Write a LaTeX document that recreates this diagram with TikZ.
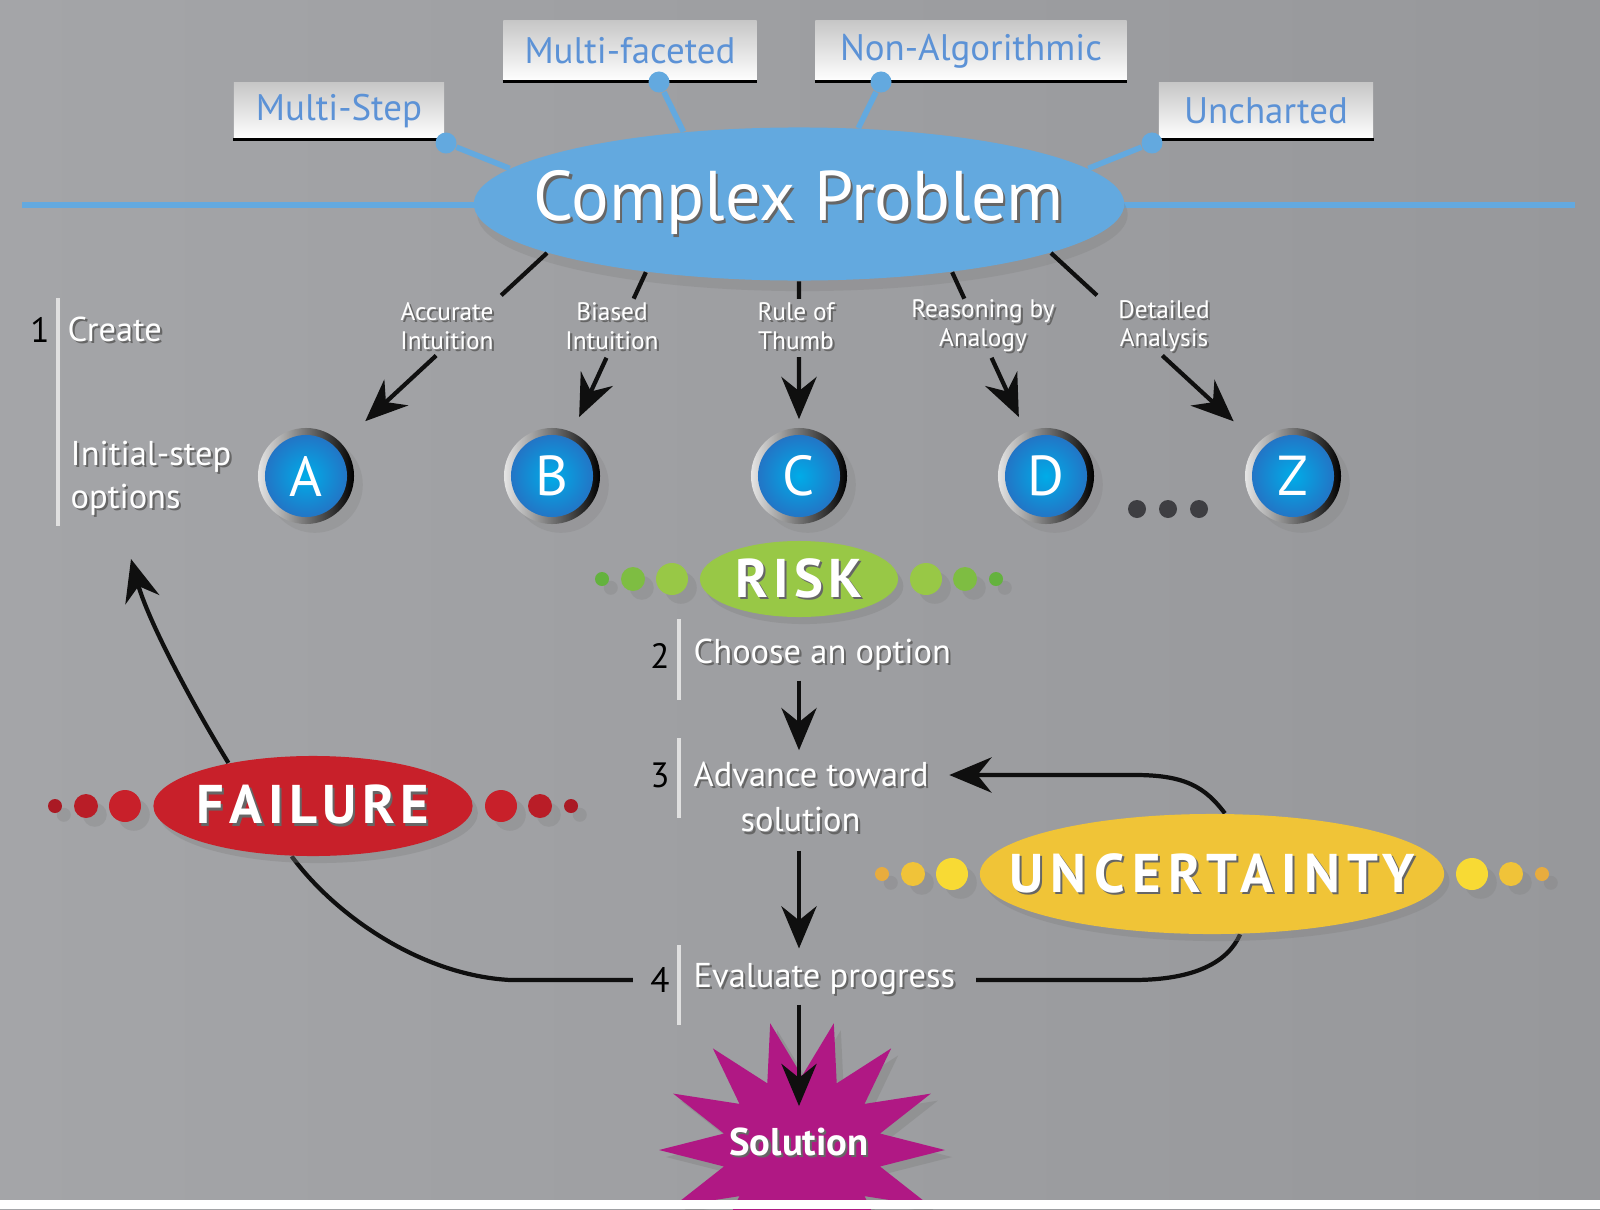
\documentclass[tikz,border=0pt]{standalone}
\usepackage{fontspec}
\setmainfont{PT Sans}
\usetikzlibrary{arrows.meta,positioning,shapes.geometric,shadows,calc,backgrounds}
\definecolor{sky}{RGB}{99,169,223}
\definecolor{tagblue}{RGB}{92,146,214}
\definecolor{leaf}{RGB}{152,200,70}
\definecolor{leafdark}{RGB}{100,178,62}
\definecolor{brick}{RGB}{200,32,42}
\definecolor{brickdark}{RGB}{170,26,36}
\definecolor{sun}{RGB}{240,196,55}
\definecolor{sunlight}{RGB}{248,218,52}
\definecolor{sunorange}{RGB}{232,172,62}
\definecolor{plum}{RGB}{176,24,132}
\definecolor{ink}{RGB}{15,15,15}
\definecolor{bgleft}{RGB}{164,165,168}
\definecolor{bgmid}{RGB}{204,205,207}
\definecolor{bgright}{RGB}{151,152,155}
\definecolor{optin}{RGB}{0,172,232}
\definecolor{optout}{RGB}{40,108,192}
\definecolor{dotgrey}{RGB}{62,62,66}
% white text with a soft dark offset copy behind it
\newcommand\shd[1]{\makebox[0pt][l]{\hspace{.6pt}\raisebox{-.6pt}{\color{black!60}#1}}#1}
\newcommand\nowide[1]{\makebox[0pt]{#1}}
% three beads on each side of a badge: node, half width, big colour, small colour
\newcommand\beads[4]{%
  \foreach \dx/\r/\c in {28/16/#3,67/12/#3!50!#4,98/7/#4}{
    \fill[\c,drop shadow={opacity=.3}] ($(#1)+(#2+\dx,0)$) circle (\r);
    \fill[\c,drop shadow={opacity=.3}] ($(#1)-(#2+\dx,0)$) circle (\r);
  }}
\tikzset{
  >={Stealth[length=12pt,width=10pt,inset=4pt]},
  flow/.style={->,line width=1.2pt,draw=ink},
  link/.style={line width=1.2pt,draw=ink},
  tagbox/.style={top color=black!22,middle color=black!13,bottom color=white,
    text=tagblue,font=\fontsize{10.5}{12}\selectfont,inner sep=0pt},
  tagdot/.style={circle,fill=sky,inner sep=0pt,minimum size=2.1mm},
  spoke/.style={draw=sky,line width=1.6pt},
  opt/.style={circle,minimum size=9.6mm,inner sep=0pt,left color=black!10,right color=black,
    text=white,font=\fontsize{16}{18}\selectfont,drop shadow={opacity=.25},
    path picture={\shade[inner color=optin,outer color=optout]
      (path picture bounding box.center) circle (4.1mm);}},
  route/.style={text=white,font=\fontsize{7.2}{8.1}\selectfont,align=center,inner sep=1pt},
  num/.style={font=\fontsize{10}{12}\selectfont,text=black,inner sep=2pt},
  stepbox/.style={text=white,font=\fontsize{9.8}{12.2}\selectfont,inner sep=2pt},
  badge/.style={ellipse,fill=#1,inner sep=0pt,text=white,
    font=\fontsize{15.5}{18}\selectfont\bfseries\addfontfeatures{LetterSpace=10},
    drop shadow={opacity=.35,shadow xshift=1.5pt,shadow yshift=-2pt}},
  bar/.style={draw=black!12,line width=1.1pt},
}
\begin{document}
\begin{tikzpicture}[x=0.01cm,y=-0.01cm]
\useasboundingbox (0,0) rectangle (1600,1209);
\begin{scope}[on background layer]
  \shade[left color=bgleft,middle color=bgmid,right color=bgright] (0,0) rectangle (1600,1209);
\end{scope}

% the problem and its four traits
\node[ellipse,fill=sky,minimum width=6.5cm,minimum height=1.53cm,inner sep=0pt,text=white,
  font=\fontsize{20}{24}\selectfont,drop shadow={opacity=.3,shadow xshift=1pt,shadow yshift=-3pt}]
  (cp) at (799,204) {\nowide{\shd{Complex Problem}}};
\node[tagbox,minimum width=2.1cm,minimum height=0.56cm] (t1) at (339,111) {Multi-Step};
\node[tagbox,minimum width=2.53cm,minimum height=0.6cm] (t2) at (630,51) {Multi-faceted};
\node[tagbox,minimum width=3.11cm,minimum height=0.6cm] (t3) at (971,51) {Non-Algorithmic};
\node[tagbox,minimum width=2.14cm,minimum height=0.56cm] (t4) at (1266,111) {Uncharted};
\foreach \t in {t1,t2,t3,t4} \draw[black,line width=1pt] (\t.south west) -- (\t.south east);
\node[tagdot] (d1) at (446,143) {};
\node[tagdot] (d2) at (659,82) {};
\node[tagdot] (d3) at (881,82) {};
\node[tagdot] (d4) at (1152,143) {};
\begin{scope}[on background layer]
  \draw[sky,line width=1.8pt] (22,205) -- (1575,205);
  \draw[spoke] (d1) -- (cp.173);
  \draw[spoke] (d2) -- (cp.148);
  \draw[spoke] (d3) -- (cp.52);
  \draw[spoke] (d4) -- (cp.7);
\end{scope}

% initial-step options
\node[opt] (A) at (306,476) {A};
\node[opt] (B) at (552,476) {B};
\node[opt] (C) at (799,476) {C};
\node[opt] (D) at (1046,476) {D};
\node[opt] (Z) at (1293,476) {Z};
\foreach \x in {1137,1168,1199} \fill[dotgrey] (\x,509) circle (9);
\node[route] (rA) at (447,327) {\shd{Accurate}\\\shd{Intuition}};
\node[route] (rB) at (612,327) {\shd{Biased}\\\shd{Intuition}};
\node[route] (rC) at (796,327) {\shd{Rule of}\\\shd{Thumb}};
\node[route] (rD) at (983,327) {\shd{Reasoning by}\\\shd{Analogy}};
\node[route] (rZ) at (1164,327) {\shd{Detailed}\\\shd{Analysis}};
\foreach \o/\a/\p/\q/\s in {A/191/.19/.46/9.1,B/204/.13/.42/4.6,C/270/.09/.39/2.3,D/336/.13/.42/4.6,Z/349/.19/.46/9.1}{
  \draw[link] (cp.\a) -- ($(cp.\a)!\p!(\o)$);
  \draw[flow,shorten >=\s pt] ($(cp.\a)!\q!(\o)$) -- (\o);
}

% risk, failure, uncertainty
\node[badge=leaf,minimum width=1.98cm,minimum height=0.76cm] (risk) at (799,579) {\nowide{\shd{RISK}}};
\beads{risk}{99}{leaf}{leafdark}
\node[badge=brick,minimum width=3.19cm,minimum height=1.0cm] (fail) at (313,806) {\nowide{\shd{FAILURE}}};
\beads{fail}{160}{brick}{brickdark}
\node[badge=sun,minimum width=4.64cm,minimum height=1.2cm,
  font=\fontsize{15.5}{18}\selectfont\bfseries\addfontfeatures{LetterSpace=14}] (unc) at (1212,874) {\nowide{\shd{UNCERTAINTY}}};
\beads{unc}{232}{sunlight}{sunorange}

% the four steps
\node[num] (n1) at (40,330) {1};
\node[stepbox,anchor=west] (s1) at (60,330) {\shd{Create}};
\node[stepbox,anchor=west,align=left] (s1b) at (63,479) {\shd{Initial-step}\\\shd{options}};
\draw[bar] (58,298) -- (58,526);
\node[num] (n2) at (660,656) {2};
\node[stepbox,anchor=west] (s2) at (686,656) {\shd{Choose an option}};
\draw[bar] (679,619) -- (679,700);
\node[num] (n3) at (660,775) {3};
\node[stepbox,anchor=west] (s3) at (686,775) {\shd{Advance toward}};
\node[stepbox,below=1pt of s3,xshift=-3pt] (s3b) {\shd{solution}};
\draw[bar] (679,738) -- (679,818);
\node[num] (n4) at (660,980) {4};
\node[stepbox,anchor=west] (ev) at (686,980) {\shd{Evaluate progress}};
\draw[bar] (679,945) -- (679,1025);
\coordinate (fin) at (131,559);

% solution burst
\coordinate (solc) at (802,1150);
\fill[plum,drop shadow={opacity=.4,shadow xshift=2pt,shadow yshift=-2pt}]
  ($(solc)+(143,0)$) \foreach \i in {1,...,27}{
    -- ($(solc)+({cos(\i*180/14)*(mod(\i,2)==0?143:80)},{sin(\i*180/14)*(mod(\i,2)==0?130:74)})$)} -- cycle;
\node[font=\fontsize{11}{13}\selectfont\bfseries,text=white,inner sep=2pt] (sol) at (799,1143) {\shd{Solution}};

\draw[flow,shorten >=1pt] (s2.south -| cp.south) -- (s3.north -| cp.south);
\draw[flow,shorten <=2.5pt,shorten >=2pt] (s3b.south -| cp.south) -- (ev.north -| cp.south);
\draw[flow,shorten >=4pt] (ev.south -| cp.south) -- (sol);

% loops back
\begin{scope}[on background layer]
  \draw[link,shorten <=3.7pt] (ev) -- (1133,980) .. controls (1195,980) and (1228,962) .. (unc.295);
  \draw[flow,shorten >=3.7pt] (unc.78) .. controls (1205,787) and (1185,775) .. (1135,775) -- (s3);
  \draw[link,shorten <=2.8pt] (n4) -- (510,980) .. controls (420,975) and (335,915) .. (fail.247);
  \draw[flow] (fail.153) .. controls (190,700) and (148,620) .. (fin);
\end{scope}

\fill[white] (0,1200) rectangle (1600,1209);
\end{tikzpicture}
\end{document}
